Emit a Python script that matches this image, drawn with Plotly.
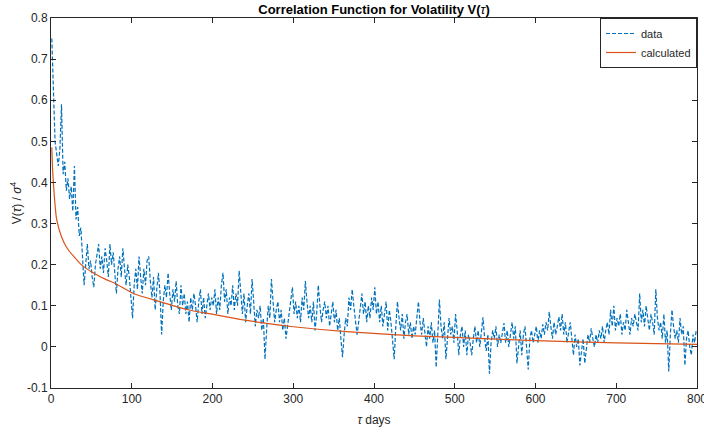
import numpy as np
import plotly.graph_objects as go

# lag (days) for the sampled data series (every 2 days)
tau_data = np.arange(1, 800, 2)
v_data = [
    0.75, 0.62, 0.50, 0.47, 0.44, 0.48, 0.59, 0.42, 0.45, 0.38, 0.41, 0.36, 0.39, 0.33, 0.44, 0.31, 0.34, 0.27, 0.29, 0.22,
    0.15, 0.20, 0.25, 0.19, 0.21, 0.17, 0.145, 0.20, 0.23, 0.25, 0.19, 0.22, 0.18, 0.24, 0.21, 0.17, 0.25, 0.20, 0.23, 0.18,
    0.13, 0.19, 0.22, 0.17, 0.24, 0.19, 0.15, 0.20, 0.17, 0.12, 0.07, 0.15, 0.19, 0.14, 0.22, 0.17, 0.13, 0.19, 0.15, 0.21,
    0.22, 0.16, 0.12, 0.17, 0.09, 0.14, 0.18, 0.13, 0.03, 0.11, 0.15, 0.12, 0.18, 0.13, 0.09, 0.14, 0.11, 0.16, 0.10, 0.08,
    0.15, 0.10, 0.13, 0.08, 0.11, 0.06, 0.12, 0.09, 0.13, 0.10, 0.06, 0.11, 0.14, 0.08, 0.12, 0.07, 0.10, 0.13, 0.09, 0.12,
    0.10, 0.14, 0.08, 0.12, 0.09, 0.15, 0.18, 0.11, 0.14, 0.08, 0.12, 0.10, 0.15, 0.09, 0.13, 0.10, 0.185, 0.12, 0.08, 0.13,
    0.06, 0.10, 0.13, 0.08, 0.165, 0.11, 0.05, 0.09, 0.07, 0.10, 0.04, 0.07, -0.03, 0.04, 0.10, 0.07, 0.165, 0.11, 0.06, 0.09,
    0.11, 0.06, 0.09, 0.04, 0.07, 0.02, 0.05, 0.09, 0.12, 0.145, 0.08, 0.11, 0.07, 0.10, 0.06, 0.12, 0.09, 0.16, 0.11, 0.07,
    0.10, 0.06, 0.11, 0.04, 0.08, 0.15, 0.10, 0.06, 0.09, 0.11, 0.07, 0.10, 0.05, 0.08, 0.11, 0.06, 0.09, 0.04, 0.07, 0.02,
    -0.025, 0.03, 0.07, 0.05, 0.12, 0.09, 0.14, 0.10, 0.07, 0.03, 0.06, 0.09, 0.13, 0.08, 0.11, 0.06, 0.10, 0.07, 0.12, 0.09,
    0.145, 0.08, 0.11, 0.06, 0.10, 0.05, 0.08, 0.11, 0.04, 0.09, 0.06, 0.02, -0.03, 0.05, 0.11, 0.07, 0.04, 0.08, 0.02, 0.06,
    0.08, 0.03, 0.06, 0.02, 0.05, 0.03, 0.07, 0.11, 0.06, 0.03, 0.07, 0.04, 0.00, 0.05, 0.02, 0.06, 0.01, 0.04, -0.05, 0.03,
    0.115, 0.05, 0.02, 0.06, -0.03, 0.02, 0.07, 0.03, 0.05, 0.01, 0.08, 0.04, -0.02, 0.03, 0.05, 0.00, 0.04, -0.02, 0.03, 0.01,
    -0.02, 0.02, 0.05, 0.01, 0.04, 0.00, 0.03, 0.072, 0.02, -0.01, 0.03, -0.065, 0.01, 0.04, 0.02, 0.05, 0.00, 0.03, 0.01, 0.04,
    0.058, 0.01, 0.04, 0.00, 0.03, 0.06, 0.02, 0.05, -0.04, 0.01, 0.04, -0.02, 0.03, 0.05, 0.00, -0.055, 0.02, 0.04, 0.01, 0.03,
    0.05, 0.01, 0.04, 0.02, 0.055, 0.03, 0.06, 0.04, 0.085, 0.05, 0.02, 0.06, 0.03, 0.05, 0.073, 0.04, 0.08, 0.03, 0.06, 0.01,
    0.04, 0.06, 0.02, -0.02, 0.03, 0.00, 0.02, -0.045, -0.01, 0.02, -0.04, 0.00, 0.03, 0.01, 0.045, 0.02, 0.00, 0.03, 0.01, 0.04,
    0.02, 0.05, 0.01, 0.04, 0.06, 0.03, 0.09, 0.05, 0.10, 0.04, 0.07, 0.05, 0.08, 0.03, 0.06, 0.04, 0.09, 0.06, 0.03, 0.07,
    0.05, 0.08, 0.06, 0.04, 0.13, 0.06, 0.09, 0.05, 0.10, 0.07, 0.04, 0.08, 0.06, 0.03, 0.14, 0.07, 0.04, 0.06, 0.02, 0.08,
    0.01, 0.04, -0.06, 0.03, 0.09, 0.05, 0.02, 0.04, 0.01, 0.07, 0.03, 0.05, -0.045, 0.02, 0.04, 0.00, -0.02, 0.03, 0.01, 0.04,
]

# calculated (fitted) curve read at selected lags
tau_calc = [1, 2, 4, 7, 13, 20, 38, 50, 69, 79, 102, 135, 168, 201, 234,
            267, 300, 366, 450, 550, 600, 700, 800]
v_calc = [0.485, 0.43, 0.37, 0.31, 0.268, 0.24, 0.199, 0.183, 0.163, 0.155,
          0.130, 0.110, 0.091, 0.079, 0.067, 0.057, 0.049, 0.037, 0.027,
          0.019, 0.015, 0.010, 0.006]

x_ticks = [0, 100, 200, 300, 400, 500, 600, 700, 800]
y_ticks = [-0.1, 0, 0.1, 0.2, 0.3, 0.4, 0.5, 0.6, 0.7, 0.8]
y_ticklabels = ["-0.1", "0", "0.1", "0.2", "0.3", "0.4", "0.5", "0.6", "0.7", "0.8"]

axis_col = "#262626"
font_fam = "Liberation Sans"

fig = go.Figure()
fig.add_trace(go.Scatter(
    x=tau_data, y=v_data, mode="lines", name="data",
    line=dict(color="#0072BD", width=1.2, dash="4px,2px"),
))
fig.add_trace(go.Scatter(
    x=tau_calc, y=v_calc, mode="lines", name="calculated",
    line=dict(color="#D95319", width=1.2, shape="spline", smoothing=0.6),
))

axis_common = dict(
    showgrid=False, zeroline=False, showline=True, linecolor=axis_col,
    linewidth=1, mirror="ticks", ticks="inside", ticklen=5, automargin=False,
    ticklabeloverflow="allow",
    tickcolor=axis_col, tickfont=dict(family=font_fam, size=12, color=axis_col),
)

fig.update_layout(
    width=704, height=432,
    margin=dict(l=51, r=7, t=18, b=44),
    paper_bgcolor="white", plot_bgcolor="white",
    font=dict(family=font_fam, size=12, color=axis_col),
    title=dict(
        text="<b>Correlation Function for Volatility V(</b><i>τ</i><b>)</b>",
        x=0.5, xref="paper", xanchor="center",
        y=1 - 9 / 432, yref="container", yanchor="middle", pad=dict(t=0, b=0),
        font=dict(family=font_fam, size=13, color="black"),
    ),
    xaxis=dict(axis_common, range=[0, 800], tickvals=x_ticks,
               title=dict(text="<i>τ</i> days", standoff=10,
                          font=dict(family=font_fam, size=12, color=axis_col))),
    yaxis=dict(axis_common, range=[-0.1, 0.8], tickvals=y_ticks,
               ticktext=y_ticklabels,
               title=dict(text="V(<i>τ</i>) / <i>σ</i><sup>4</sup>", standoff=2,
                          font=dict(family=font_fam, size=12, color=axis_col))),
    legend=dict(
        x=1, y=1, xanchor="right", yanchor="top",
        bordercolor=axis_col, borderwidth=1, bgcolor="white",
        font=dict(family=font_fam, size=11, color=axis_col),
        tracegroupgap=4, entrywidth=72, entrywidthmode="pixels",
    ),
    showlegend=True,
)

fig.write_html("out.html", config={"displayModeBar": False},
               post_script="document.body.style.margin='0';")
